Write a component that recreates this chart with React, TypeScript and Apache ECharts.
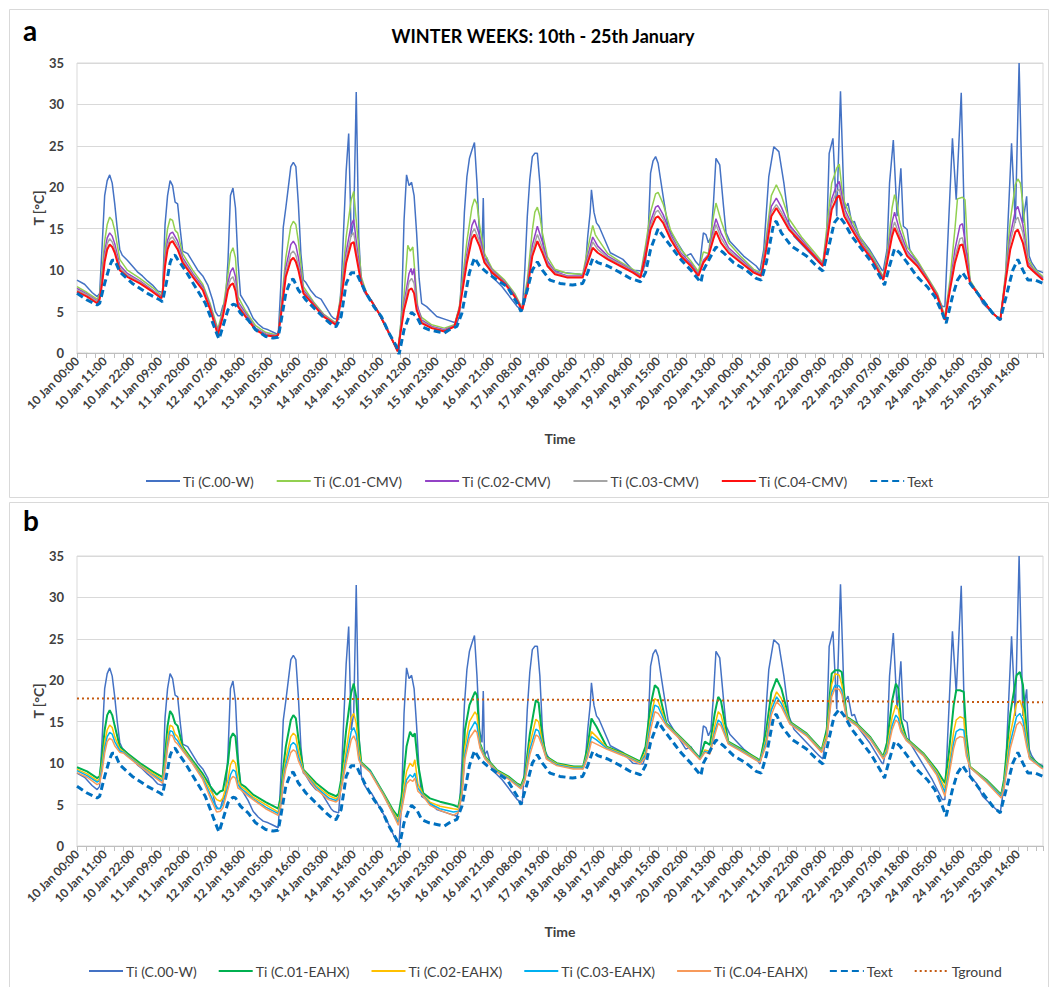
import React, { useEffect, useRef } from "react";
import * as echarts from "echarts";

const tickLabels = [
  "10 Jan 00:00", "10 Jan 11:00", "10 Jan 22:00", "11 Jan 09:00", "11 Jan 20:00",
  "12 Jan 07:00", "12 Jan 18:00", "13 Jan 05:00", "13 Jan 16:00", "14 Jan 03:00",
  "14 Jan 14:00", "15 Jan 01:00", "15 Jan 12:00", "15 Jan 23:00", "16 Jan 10:00",
  "16 Jan 21:00", "17 Jan 08:00", "17 Jan 19:00", "18 Jan 06:00", "18 Jan 17:00",
  "19 Jan 04:00", "19 Jan 15:00", "20 Jan 02:00", "20 Jan 13:00", "21 Jan 00:00",
  "21 Jan 11:00", "21 Jan 22:00", "22 Jan 09:00", "22 Jan 20:00", "23 Jan 07:00",
  "23 Jan 18:00", "24 Jan 05:00", "24 Jan 16:00", "25 Jan 03:00", "25 Jan 14:00",
];

// [hour since 10 Jan 00:00, temperature °C]
const tiC00W = [
  [0,8.8],[3,8.3],[6,7.3],[8,6.8],[9,7.2],[10,13],[11,19],[12,20.8],[13,21.5],[14,20.5],[15,18],[16,15],[17,12.5],[18,11.8],[20,11.2],[22,10.5],[24,9.8],[26,9.3],[28,8.7],[30,8.2],[32,7.5],[34,7.3],
  [35,15.5],[36,19],[37,20.8],[38,20.2],[39,18.2],[40,18],[41,15],[42,12.3],[44,12],[46,11],[48,10],[50,9.3],[52,8.2],[54,6.3],[55,5],[56,4.5],[57,4.5],[58,5.7],[59,6.2],
  [60,11],[61,19],[62,19.9],[63,17.5],[64,11],[65,7],[66,6.5],[68,5.5],[70,4.2],[72,3.5],[74,3],[76,2.8],[78,2.5],[80,2.2],
  [81,8],[82,15.2],[83,17.5],[84,20],[85,22.5],[86,23],[87,22.5],[88,18],[89,12],[90,8.8],[91,8.5],[93,7.5],[95,6.8],[97,6.5],[99,5.5],[101,4.5],[102,4.2],[104,4],
  [105,8],[106,15],[107,22],[108,26.5],[109,14],[110,16],[111,31.5],[112,14],[113,8.5],[114,7.5],[115,7],[117,6.4],[120,4.8],[123,3.2],[126,1.2],[128,0.3],
  [129,5],[130,16],[131,21.5],[132,20.2],[133,20.6],[134,19],[135,14.5],[136,9],[137,6],[139,5.6],[143,4.4],[147,4],[151,3.6],
  [152,4.4],[153,10],[154,17],[155,21.3],[156,23.5],[157,24.5],[158,25.4],[159,20.5],[160,14],[161,12.5],[161.5,18.7],[162,10.9],[163,11.5],[165,9.2],[169,8],[173,6.4],[175,5.6],[177,5.2],
  [178,10],[179,16.5],[180,21],[181,23.7],[182,24.1],[183,24.1],[184,20.5],[185,14.1],[186,11.5],[187,10.9],[189,10],[194,9.7],[200,9.5],[201,9.3],
  [202,10],[203,14],[204,17],[204.5,19.7],[205.5,17],[206.5,15.7],[207.5,15.3],[212,12.1],[217,11.3],[221,10],[225,9.9],
  [226,11],[227,14.1],[228,21.7],[229,23.2],[230,23.7],[231,22.9],[233,18.9],[235,15.1],[237,14.1],[242,11.7],[244,12],[246,11],[247.5,10.5],
  [249,14.5],[250,14.3],[251,13.3],[252,14],[253,18.1],[254,23.5],[255.5,22.7],[257,17.7],[258,14.5],[259.5,13.5],[265,11.7],[270,10.5],[271.5,9.9],
  [273,12.5],[275,21.3],[277,24.9],[279,24.3],[281,20.5],[283,15.7],[285,14.1],[290,12.5],[295,10.9],[296.5,10.5],
  [298,14.1],[299,24.1],[300.5,25.9],[302,16.5],[303.5,31.6],[305,17.3],[306.5,18.1],[308,15.7],[309,15.9],[311,14.1],[315,12.5],[320,10],[320.5,9.9],
  [322,12.5],[323,20.5],[324.5,25.7],[326,16.5],[327.5,22.3],[328.5,15.3],[330,14.9],[331,12.5],[336,10],[340,8],[344,5.6],[345,5.6],
  [346,12.5],[348,25.9],[349.5,18.5],[351.5,31.4],[353,12.5],[354,11.9],[355,8.4],[357.5,7.6],[360,6],[364,4.8],[367,4],
  [369,8.4],[371.5,25.3],[373,15.7],[374.5,35],[376,15.7],[377.5,18.9],[378.5,11.7],[379.5,10.9],[381.5,10],[384,9.7],
];

const tExt = [
  [0,7.2],[4,6.4],[8,5.8],[9,6],[11,8.4],[13,10.5],[14,11.2],[15,11.2],[17,9.8],[22,8.4],[28,7.2],[33,6.4],[34,6.2],
  [36,9.2],[37,10.9],[38,11.7],[39,11.8],[40,11.3],[43,10],[47,8],[51,6],[54,3.6],[56,2],[56.5,1.7],
  [58,3.2],[60,5.2],[62,5.9],[63,5.8],[65,4.8],[68,4],[71,2.8],[75,2],[78,1.8],[80,1.9],
  [81,3.6],[83,7.2],[85,8.8],[86,8.9],[88,7.6],[91,6.4],[95,5.2],[99,4],[102,3.2],[103,3.2],
  [105,4.4],[107,8.4],[109,9.7],[111,9.7],[113,8.4],[115,7.2],[118,5.6],[121,4.4],[124,2.4],[127,0.8],[128,-0.2],
  [130,2.8],[132,4.4],[133,4.9],[135,4.4],[137,3.2],[140,2.8],[143,2.6],[146,2.4],[148,2.8],[151,3.2],
  [153,4.8],[156,9.7],[158,11.5],[160,10.5],[163,9.7],[167,8.8],[171,8],[175,6],[176.5,5],
  [179,7.6],[181,10],[183,11],[185,10],[188,8.8],[192,8.4],[197,8.2],[201,8.4],
  [203,9.7],[205,11.4],[207,10.9],[211,10.5],[216,9.7],[220,9],[224,8.6],
  [226,9.7],[228,12.5],[231,15],[233,14.1],[236,12.9],[240,11.3],[244,10],[248,8.5],
  [249,10],[252,11.7],[254,12.8],[257,12.1],[261,10.9],[266,10],[270,9],[272,8.8],
  [274,10.9],[277,15.7],[278,15.9],[280,14.5],[284,12.9],[290,11.7],[294,10.5],[296.5,9.9],
  [298,11.7],[301,15.7],[303,16.5],[305,15.7],[308,14.1],[312,12.5],[316,10.9],[320,8.8],[321,8.2],
  [323,10.5],[325,12.6],[327,12.1],[330,10.9],[334,9.2],[338,8],[341,6.8],[344,4.8],[345.5,3.6],
  [348,6.8],[350,8.8],[352,9.7],[354,8.8],[357,7.6],[360,6.4],[364,4.8],[367,4],
  [369,6.4],[372,10],[374,11.3],[376,10],[378,8.8],[381,8.8],[384,8.4],
];

const tiC01CMV = [
  [0,8],[4,7.3],[8,6.5],[9,7],[10,10],[11,13.5],[12,15.5],[13,16.4],[14,16],[15,14.8],[17,11.3],[20,10],[25,9],[30,7.9],[33.5,7],
  [34,7.5],[35,12.5],[36,15],[37,16.2],[38,16],[39,14.8],[40,14.5],[42,12],[46,10],[50,8.3],[53,5.9],[56,2.9],
  [58,5.2],[60,9.5],[61,12],[62,12.7],[63,11.5],[64,6.8],[67,5.1],[71,3.3],[75,2.5],[79,2.2],[80,2.2],
  [81,5.2],[83,11.5],[85,15.3],[86,15.9],[87,15.5],[88,13.5],[90,8],[94,6.2],[98,4.7],[103,3.6],
  [105,7.2],[107,14],[109,18.5],[110,19.5],[111,16],[113,9.2],[115,7.3],[118,5.8],[120,4.8],[124,2.4],[127.5,0.2],
  [130,7],[131.5,13],[132.5,12.3],[133.5,12.8],[134.5,9],[135.5,5.3],[137,4.3],[141,3.4],[146,3],[150,3.4],
  [152,5.6],[155,13.5],[157,17.6],[158,18.6],[159,18],[160,15.5],[162,12],[165,10.2],[170,8.8],[174,7.2],[177,5.4],
  [179,8.8],[181,14.8],[182,17],[183,17.6],[184,16.5],[185,14.5],[187,11.6],[190,10.1],[195,9.6],[201,9.5],
  [203,12.5],[205,15.4],[206,14.3],[207,13.8],[211,12],[216,11],[221,10.1],[224,9.5],
  [226,13],[228,17],[230,19.2],[231,19.4],[233,18],[236,14.8],[240,12.5],[244,11.1],[247,9.8],
  [249,12.2],[251,12],[253,16.5],[254,18.1],[256,16],[259,13.3],[264,11.6],[269,10.1],[272,9.7],
  [274,14],[276,19],[278,20.3],[280,19],[283,16.2],[288,14],[293,12.2],[296.5,10.9],
  [298,15],[300,20.5],[302,22.3],[303,22.8],[304,20],[305,18.3],[308,16],[312,13.6],[316,11.8],[320.5,9.2],
  [322,11.8],[324,17.5],[325,19.1],[326,18],[327,15.8],[330,12.8],[334,11.2],[338,9.2],[342,7.2],[345,4.4],
  [347,8.8],[349,15],[350,18.6],[352,18.8],[353,18.5],[354,13],[355,8.8],[358,7.3],[361,6],[364,4.8],[367,4],
  [369,9.3],[371,16],[373,20.3],[374,21],[375,20.5],[376,18],[378,11.5],[380,10.3],[384,9.2],
];

const tiC02CMV = [
  [0,7.8],[4,7.1],[8,6.3],[9,6.8],[10,9.2],[11,12.2],[12,13.9],[13,14.5],[14,14.1],[15,13.2],[17,10.6],[20,9.6],[25,8.7],[30,7.6],[33.5,6.8],
  [34,7.3],[35,11.5],[36,13.6],[37,14.4],[38,14.6],[40,13.5],[42,11.5],[46,9.6],[50,8],[53,5.6],[56,2.6],
  [58,4.8],[60,8.5],[61,9.8],[62,10.3],[63,9.2],[64,6.2],[67,4.8],[71,3],[75,2.3],[79,2.1],[80,2.2],
  [81,4.8],[83,10.3],[85,13.1],[86,13.5],[87,13],[88,11.5],[90,7.6],[94,6],[98,4.6],[103,3.5],
  [105,6.8],[107,12.2],[109,15.5],[110,16.1],[111,13.5],[113,8.8],[115,7.2],[118,5.8],[120,4.8],[124,2.4],[127.5,0.2],
  [130,6],[132,9.6],[132.8,10.2],[133.3,9.4],[134,10.2],[135,6],[137,4],[141,3.2],[146,2.8],[150,3.3],
  [152,5.4],[155,12],[157,15.4],[158,16.1],[160,14.2],[162,11.5],[165,10],[170,8.6],[174,7],[177,5.3],
  [179,8.2],[181,13],[183,15.3],[185,13.4],[187,11.1],[190,9.8],[195,9.3],[201,9.3],
  [203,11.7],[205,14],[207,12.9],[211,11.7],[216,10.8],[221,9.9],[224,9.3],
  [226,12.3],[228,15.9],[230,17.6],[231,17.8],[233,16.7],[236,14.3],[240,12.1],[244,10.8],[247,9.5],
  [249,11.2],[251,11.9],[253,15],[254,16.2],[256,14.5],[259,12.7],[264,11.3],[269,9.9],[272,9.5],
  [274,13.3],[276,17.7],[278,18.7],[280,17.6],[283,15.5],[288,13.7],[293,11.9],[296.5,10.7],
  [298,14],[300,18.6],[302,20.3],[303,20.7],[305,17.5],[308,15.5],[312,13.3],[316,11.5],[320.5,9],
  [322,11.3],[324,15.8],[325,17],[327,14.8],[330,12.3],[334,10.9],[338,9],[342,7],[345,4.2],
  [347,8],[349,12.5],[351,15.4],[352,15.6],[353,13.5],[355,8.6],[358,7.2],[361,6],[364,4.8],[367,4],
  [369,8.8],[371,14.2],[373,17.2],[374,17.7],[376,15.5],[378,11],[380,10.1],[384,9],
];

const tiC03CMV = [
  [0,7.6],[4,7],[8,6.2],[9,6.7],[10,8.8],[11,11.6],[12,13.2],[13,13.8],[14,13.4],[15,12.6],[17,10.3],[20,9.4],[25,8.6],[30,7.5],[33.5,6.7],
  [34,7.2],[35,11],[36,13],[37,13.8],[38,14],[40,13],[42,11.2],[46,9.4],[50,7.8],[53,5.4],[56,2.4],
  [58,4.6],[60,8],[61,8.9],[62,9.2],[63,8.2],[64,5.9],[67,4.6],[71,2.9],[75,2.2],[79,2.1],[80,2.2],
  [81,4.6],[83,9.7],[85,12],[86,12.3],[87,11.8],[88,10.6],[90,7.4],[94,5.9],[98,4.5],[103,3.5],
  [105,6.6],[107,11.5],[109,14.2],[110,14.5],[111,12.5],[113,8.6],[115,7.2],[118,5.8],[120,4.8],[124,2.4],[127.5,0.2],
  [130,5.6],[132,8.6],[133,9],[134,8.4],[135,5.6],[137,3.8],[141,3.1],[146,2.7],[150,3.3],
  [152,5.3],[155,11.4],[157,14.5],[158,15],[160,13.5],[162,11.2],[165,9.9],[170,8.5],[174,6.9],[177,5.2],
  [179,7.9],[181,12.3],[183,14.3],[185,12.7],[187,10.8],[190,9.7],[195,9.2],[201,9.2],
  [203,11.3],[205,13.4],[207,12.5],[211,11.5],[216,10.7],[221,9.8],[224,9.2],
  [226,12],[228,15.4],[230,17],[231,17.2],[233,16.2],[236,14],[240,11.9],[244,10.6],[247,9.4],
  [249,11],[251,11.8],[253,14.4],[254,15.5],[256,13.9],[259,12.4],[264,11.1],[269,9.8],[272,9.4],
  [274,12.9],[276,17],[278,17.9],[280,17],[283,15.2],[288,13.5],[293,11.8],[296.5,10.6],
  [298,13.6],[300,18],[302,19.5],[303,19.8],[305,17],[308,15.2],[312,13.1],[316,11.4],[320.5,8.9],
  [322,11.1],[324,14.8],[325,15.8],[327,14.2],[330,12],[334,10.7],[338,8.9],[342,6.9],[345,4.1],
  [347,7.8],[349,11.6],[351,13.8],[352,13.9],[353,12.3],[355,8.5],[358,7.2],[361,6],[364,4.8],[367,4],
  [369,8.6],[371,13.4],[373,16],[374,16.4],[376,14.5],[378,10.8],[380,10],[384,8.9],
];

const tiC04CMV = [
  [0,7.4],[4,6.8],[8,6],[9,6.5],[10,8.4],[11,11],[12,12.5],[13,13.1],[14,12.8],[15,12.1],[17,10],[20,9.2],[25,8.4],[30,7.4],[33.5,6.6],
  [34,7],[35,10.5],[36,12.5],[37,13.3],[38,13.5],[40,12.5],[42,10.9],[46,9.2],[50,7.6],[53,5.2],[56,2.2],
  [58,4.4],[60,7.6],[61,8.2],[62,8.4],[63,7.5],[64,5.6],[67,4.4],[71,2.8],[75,2.1],[79,2],[80,2.2],
  [81,4.4],[83,9.2],[85,11.2],[86,11.5],[87,11],[88,10],[90,7.2],[94,5.8],[98,4.4],[103,3.4],
  [105,6.4],[107,10.9],[109,13.2],[110,13.4],[111,11.7],[113,8.4],[115,7.2],[118,5.8],[120,4.8],[124,2.4],[127.5,0.2],
  [130,5.2],[132,7.6],[133,7.8],[134,7.2],[135,5.2],[137,3.6],[141,3],[146,2.6],[150,3.2],
  [152,5.2],[155,10.9],[157,13.8],[158,14.3],[160,12.9],[162,10.9],[165,9.7],[170,8.4],[174,6.8],[177,5.2],
  [179,7.6],[181,11.7],[183,13.5],[185,12.1],[187,10.5],[190,9.5],[195,9.1],[201,9.1],
  [203,10.9],[205,12.7],[207,12.1],[211,11.3],[216,10.5],[221,9.7],[224,9.1],
  [226,11.7],[228,14.9],[230,16.3],[231,16.5],[233,15.7],[236,13.7],[240,11.7],[244,10.5],[247,9.3],
  [249,10.9],[251,11.7],[253,13.8],[254,14.7],[256,13.3],[259,12.1],[264,10.9],[269,9.7],[272,9.3],
  [274,12.5],[276,16.5],[278,17.5],[280,16.5],[283,14.9],[288,13.3],[293,11.7],[296.5,10.5],
  [298,13.3],[300,17.3],[302,18.7],[303,19],[305,16.5],[308,14.9],[312,12.9],[316,11.3],[320.5,8.8],
  [322,10.9],[324,14.1],[325,15.1],[327,13.7],[330,11.7],[334,10.5],[338,8.8],[342,6.8],[345,4],
  [347,7.6],[349,10.9],[351,13],[352,13.1],[353,11.7],[355,8.4],[358,7.2],[361,6],[364,4.8],[367,4],
  [369,8.4],[371,12.5],[373,14.6],[374,14.9],[376,13.3],[378,10.5],[380,9.9],[384,8.8],
];

const tiC01EAHX = [
  [0,9.5],[4,9],[8,8.2],[9,8.4],[10,11],[11,14],[12,15.8],[13,16.4],[14,15.8],[15,14.5],[17,12],[18.5,11.6],[20,11.2],[25,10],[30,9],[34,8.3],
  [35,11],[36,14.5],[37,16.3],[38,15.8],[39,14.8],[40,14.5],[42,12],[46,10.3],[50,8.7],[53,7.2],[55.5,6.2],[57,6.6],[58,6.7],
  [60,10],[61,13],[62,13.6],[63,13.2],[64,10],[65,7.5],[67,7.1],[70,6.2],[75,5.3],[80,4.5],
  [81,6],[82,9.5],[83,12],[85,15.2],[86,15.8],[87,15.4],[88,13],[90,9.2],[95,7.6],[100,6.4],[103,6],
  [104,6.3],[105,8],[107,14],[109,18.5],[110,19.6],[111,18],[112,13],[113,10.1],[116.5,9.1],[121.8,6.4],[125.7,4.3],[127.7,3.5],
  [129,6],[131,12],[132.4,13.8],[133.5,13.2],[134.3,13.6],[135.5,10],[137.6,6.4],[140.3,5.75],[144.3,5.35],[149.6,4.95],[151.6,4.7],
  [153,7],[154.2,14],[156,17],[158.2,18.6],[159,18.2],[160.2,12.4],[162.2,10.8],[166.8,9.2],[171.4,8.4],[174.7,7.6],[176.5,7.3],
  [178,8.5],[180,13.5],[182.4,17.6],[183.5,17.3],[185,13],[186.6,10.8],[190.7,10],[197.3,9.6],[201.2,9.6],
  [203,12],[204.5,15.4],[206.5,14.4],[210.5,12],[217.1,11.2],[223.8,10.2],
  [226,12],[228,17],[229.7,19.4],[231,19],[234.3,14.8],[239.7,13.2],[243.6,12],[247.6,10.6],
  [249.6,12.6],[251.6,12.2],[253.5,16],[254.9,18],[256,17.5],[258.9,12.6],[263.5,11.8],[270.1,10.6],[271.5,10.3],
  [274,14],[276,18.5],[278.1,20.2],[280,19],[283.4,15],[290,13.6],[296,11.6],
  [298,14],[300,20.8],[301.3,21.2],[303,21.2],[304,21],[306,15.6],[309.9,14.8],[315.2,13.2],[320.5,10.8],
  [322,12.5],[324,17.5],[325.5,19.6],[326.5,19],[327.5,15.3],[329.7,13],[336.4,11.2],[341.7,9.2],[345,7.6],
  [346.5,11],[348.5,17],[349.5,18.8],[351,18.8],[352.5,18.6],[353.5,13.5],[354.9,9.6],[361.5,8],[367.4,6.2],
  [368.5,8],[371,16],[373.5,20.6],[374.8,21],[376,19.5],[377.5,14],[378.7,10.8],[383.4,9.6],[384,9.5],
];

const tiC02EAHX = [
  [0,9.25],[4,8.7],[8,7.9],[9,8.1],[10,10],[11,12.5],[12,14],[13,14.6],[14,14.3],[15,13.2],[17,11.7],[18.5,11.4],[20,11],[25,9.8],[30,8.8],[34,8],
  [35,10],[36,13],[37,14.6],[38,14.4],[39,13.5],[40,13.2],[42,11.8],[46,10.1],[50,8.4],[53,6.7],[55.5,5.6],[57,5.4],[58,5.8],
  [60,8],[61,9.8],[62,10.4],[63,10],[64,8],[65,7.2],[67,6.8],[70,5.9],[75,5],[80,4.1],
  [81,5.4],[82,8.5],[83,10.5],[85,13.2],[86,13.6],[87,13.3],[88,11.5],[90,9.1],[95,7.3],[100,6.1],[103,5.7],
  [104,6],[105,7.3],[107,11.5],[109,15.5],[110,16],[111,14.8],[112,11.5],[113,10],[116.5,9],[121.8,6.3],[125.7,4.1],[127.7,3.1],
  [129,5],[131,9],[132.4,10],[133.5,9.6],[134.3,10.4],[135.5,7.5],[137.6,6.2],[140.3,5.3],[144.3,4.8],[149.6,4.5],[151.6,4.4],
  [153,6.5],[154.2,12],[156,15],[158.2,16.2],[159,15.8],[160.2,12.2],[162.2,10.7],[166.8,9.1],[171.4,8.3],[174.7,7.5],[176.5,7.1],
  [178,8.2],[180,12.3],[182.4,15.3],[183.5,15],[185,12.5],[186.6,10.7],[190.7,9.9],[197.3,9.5],[201.2,9.5],
  [203,11.3],[204.5,13.8],[206.5,13.2],[210.5,11.9],[217.1,11.1],[223.8,10.1],
  [226,11.3],[228,15.5],[229.7,17.8],[231,17.5],[234.3,14.7],[239.7,13.1],[243.6,11.9],[247.6,10.5],
  [249.6,11.6],[251.6,11.4],[253.5,14.5],[254.9,16.2],[256,15.8],[258.9,12.5],[263.5,11.7],[270.1,10.5],[271.5,10.2],
  [274,13],[276,17],[278.1,18.6],[280,17.8],[283.4,14.9],[290,13.5],[296,11.5],
  [298,13.5],[300,19.5],[301.3,20.8],[303,20.6],[304,19.5],[306,15.5],[309.9,14.7],[315.2,13.1],[320.5,10.7],
  [322,11.8],[324,15.5],[325.5,17],[326.5,16.5],[327.5,14.3],[329.7,12.9],[336.4,11.1],[341.7,9],[345,7],
  [346.5,9.5],[348.5,13.8],[349.5,15.2],[351,15.6],[352.5,15.4],[353.5,12],[354.9,9.6],[361.5,7.9],[367.4,6.1],
  [368.5,7.5],[371,13.5],[373.5,17.2],[374.8,17.6],[376,16.5],[377.5,13],[378.7,10.7],[383.4,9.5],[384,9.4],
];

const tiC03EAHX = [
  [0,9.1],[4,8.5],[8,7.7],[9,7.9],[10,9.5],[11,11.8],[12,13.2],[13,13.7],[14,13.5],[15,12.6],[17,11.5],[18.5,11.3],[20,10.9],[25,9.7],[30,8.6],[34,7.8],
  [35,9.6],[36,12.3],[37,13.9],[38,13.8],[39,13],[40,12.7],[42,11.6],[46,10],[50,8.2],[53,6.2],[55.5,4.5],[57,4.6],[58,5],
  [60,7.2],[61,8.6],[62,9.2],[63,9],[64,7.4],[65,7],[67,6.5],[70,5.7],[75,4.7],[80,3.9],
  [81,5],[82,8],[83,9.8],[85,12.2],[86,12.5],[87,12.2],[88,10.8],[90,9],[95,7.1],[100,5.8],[103,5.5],
  [104,5.8],[105,7],[107,10.6],[109,13.8],[110,14.3],[111,13.5],[112,10.8],[113,9.9],[116.5,9],[121.8,6.2],[125.7,3.9],[127.7,2.8],
  [129,4.5],[131,8],[132.4,8.6],[133.5,8.3],[134.3,8.8],[135.5,7],[137.6,6.1],[140.3,5.1],[144.3,4.5],[149.6,4.1],[151.6,4.2],
  [153,6.2],[154.2,11],[156,13.8],[158.2,15],[159,14.6],[160.2,12],[162.2,10.6],[166.8,9],[171.4,8.2],[174.7,7.4],[176.5,7],
  [178,8],[180,11.6],[182.4,14.1],[183.5,13.9],[185,12.2],[186.6,10.6],[190.7,9.8],[197.3,9.4],[201.2,9.4],
  [203,11],[204.5,13.2],[206.5,12.8],[210.5,11.8],[217.1,11],[223.8,10],
  [226,11],[228,14.8],[229.7,17],[231,16.8],[234.3,14.6],[239.7,13],[243.6,11.8],[247.6,10.5],
  [249.6,11.4],[251.6,11.2],[253.5,13.8],[254.9,15.2],[256,14.9],[258.9,12.4],[263.5,11.6],[270.1,10.4],[271.5,10.2],
  [274,12.6],[276,16.4],[278.1,18],[280,17.2],[283.4,14.8],[290,13.4],[296,11.4],
  [298,13],[300,18.5],[301.3,19.4],[303,19.3],[304,18.8],[306,15.4],[309.9,14.6],[315.2,13],[320.5,10.6],
  [322,11.5],[324,14.5],[325.5,15.8],[326.5,15.4],[327.5,14],[329.7,12.8],[336.4,11],[341.7,8.8],[345,6.5],
  [346.5,8.8],[348.5,12.5],[349.5,13.8],[351,14.1],[352.5,14],[353.5,11.4],[354.9,9.5],[361.5,7.8],[367.4,6],
  [368.5,7.2],[371,12.5],[373.5,15.6],[374.8,16],[376,15.2],[377.5,12.5],[378.7,10.6],[383.4,9.5],[384,9.4],
];

const tiC04EAHX = [
  [0,8.85],[4,8.3],[8,7.4],[9,7.6],[10,9],[11,11.2],[12,12.6],[13,13],[14,12.8],[15,12.1],[17,11.3],[18.5,11.2],[20,10.8],[25,9.6],[30,8.5],[34,7.6],
  [35,9.2],[36,11.8],[37,13.4],[38,13.3],[39,12.6],[40,12.3],[42,11.5],[46,9.9],[50,8],[53,5.8],[55.5,4.1],[57,4.2],[58,4.6],
  [60,6.8],[61,8],[62,8.4],[63,8.2],[64,7],[65,6.8],[67,6.3],[70,5.6],[75,4.5],[80,3.7],
  [81,4.7],[82,7.6],[83,9.3],[85,11.3],[86,11.6],[87,11.4],[88,10.3],[90,8.9],[95,6.9],[100,5.6],[103,5.3],
  [104,5.6],[105,6.8],[107,10],[109,12.8],[110,13.3],[111,12.6],[112,10.4],[113,9.8],[116.5,8.9],[121.8,6.1],[125.7,3.8],[127.7,2.5],
  [129,4.2],[131,7.5],[132.4,8],[133.5,7.8],[134.3,8.2],[135.5,6.6],[137.6,6],[140.3,4.9],[144.3,4.3],[149.6,3.7],[151.6,4.1],
  [153,6],[154.2,10.5],[156,13],[158.2,14],[159,13.7],[160.2,11.8],[162.2,10.5],[166.8,8.9],[171.4,8.1],[174.7,7.3],[176.5,6.9],
  [178,7.8],[180,11],[182.4,13.4],[183.5,13.2],[185,12],[186.6,10.5],[190.7,9.7],[197.3,9.3],[201.2,9.3],
  [203,10.7],[204.5,12.6],[206.5,12.3],[210.5,11.7],[217.1,10.9],[223.8,9.9],
  [226,10.7],[228,14],[229.7,16.2],[231,16],[234.3,14.5],[239.7,12.9],[243.6,11.7],[247.6,10.4],
  [249.6,11.3],[251.6,11.1],[253.5,13.4],[254.9,14.8],[256,14.5],[258.9,12.3],[263.5,11.5],[270.1,10.3],[271.5,10.1],
  [274,12.2],[276,15.8],[278.1,17.4],[280,16.8],[283.4,14.7],[290,13.3],[296,11.3],
  [298,12.8],[300,18],[301.3,19],[303,18.9],[304,18.3],[306,15.3],[309.9,14.5],[315.2,12.9],[320.5,10.5],
  [322,11.2],[324,14],[325.5,15.2],[326.5,14.9],[327.5,13.8],[329.7,12.7],[336.4,10.9],[341.7,8.6],[345,6],
  [346.5,8.3],[348.5,11.8],[349.5,12.9],[351,13.2],[352.5,13.1],[353.5,10.9],[354.9,9.5],[361.5,7.7],[367.4,5.8],
  [368.5,6.9],[371,11.8],[373.5,14.6],[374.8,15],[376,14.4],[377.5,12],[378.7,10.5],[383.4,9.4],[384,9.3],
];

const tGround = [[0,17.8],[96,17.75],[192,17.65],[288,17.5],[384,17.35]];

const FONT = "Lato, 'Open Sans', 'DejaVu Sans', sans-serif";
const TXT = "#404040";
const GRIDC = "#d9d9d9";

function xAxisFor(gridIndex: number) {
  return {
    type: "value",
    gridIndex,
    min: 0,
    max: 384,
    interval: 11,
    name: "Time",
    nameLocation: "middle",
    nameGap: 78,
    nameTextStyle: { fontFamily: FONT, fontWeight: "bold", fontSize: 14, color: TXT },
    axisLine: { show: true, lineStyle: { color: "#bfbfbf" } },
    axisTick: { show: true, length: 5, lineStyle: { color: "#bfbfbf" } },
    minorTick: { show: true, splitNumber: 3, length: 5, lineStyle: { color: "#bfbfbf" } },
    splitLine: { show: false },
    minorSplitLine: { show: false },
    axisLabel: {
      rotate: 45,
      margin: 6,
      fontFamily: FONT,
      fontWeight: "bold",
      fontSize: 12,
      color: TXT,
      showMaxLabel: false,
      formatter: (v: number) => {
        const i = Math.round(v / 11);
        return Math.abs(v - i * 11) < 1e-6 && tickLabels[i] ? tickLabels[i] : "";
      },
    },
  };
}

function yAxisFor(gridIndex: number) {
  return {
    type: "value",
    gridIndex,
    min: 0,
    max: 35,
    interval: 5,
    name: "T [°C]",
    nameLocation: "middle",
    nameGap: 32,
    nameMoveOverlap: false,
    nameRotate: 90,
    nameTextStyle: { fontFamily: FONT, fontWeight: "bold", fontSize: 14, color: TXT },
    axisLine: { show: false },
    axisTick: { show: false },
    splitLine: { lineStyle: { color: GRIDC, width: 1 } },
    axisLabel: { fontFamily: FONT, fontWeight: "bold", fontSize: 13, color: TXT, margin: 13 },
  };
}

function line(name: string, data: number[][], color: string, width: number, idx: number, type: any = "solid") {
  return {
    type: "line",
    name,
    data,
    xAxisIndex: idx,
    yAxisIndex: idx,
    symbol: "none",
    showSymbol: false,
    smooth: false,
    lineStyle: { color, width, type },
    itemStyle: { color },
    emphasis: { disabled: true },
  };
}

const legendText = { fontFamily: FONT, fontSize: 14, color: TXT, padding: [0, 0, 0, -2] };
const legendItemStyle = { color: "rgba(0,0,0,0)", borderColor: "rgba(0,0,0,0)", borderWidth: 0, opacity: 0 };

export default function App() {
  const ref = useRef<HTMLDivElement>(null);
  useEffect(() => {
    if (!ref.current) return;
    const chart = echarts.init(ref.current, undefined, { renderer: "svg" });
    const option: any = {
      animation: false,
      backgroundColor: "#ffffff",
      title: {
        text: "WINTER WEEKS: 10th - 25th January",
        left: 538,
        top: 22,
        textAlign: "center",
        textStyle: { fontFamily: FONT, fontWeight: "bold", fontSize: 18, color: "#000" },
      },
      graphic: [
        { type: "rect", shape: { x: 9.5, y: 9.5, width: 1039, height: 488 }, style: { fill: "none", stroke: GRIDC, lineWidth: 1 }, silent: true },
        { type: "rect", shape: { x: 9.5, y: 502.5, width: 1039, height: 490 }, style: { fill: "none", stroke: GRIDC, lineWidth: 1 }, silent: true },
        { type: "text", left: 23, top: 16, style: { text: "a", font: `bold 28px ${FONT}`, fill: "#000" } },
        { type: "text", left: 23, top: 506, style: { text: "b", font: `bold 28px ${FONT}`, fill: "#000" } },
      ],
      grid: [
        { left: 77, top: 63, width: 966, height: 290, show: true, borderColor: GRIDC, borderWidth: 1 },
        { left: 77, top: 556, width: 966, height: 290, show: true, borderColor: GRIDC, borderWidth: 1 },
      ],
      xAxis: [xAxisFor(0), xAxisFor(1)],
      yAxis: [yAxisFor(0), yAxisFor(1)],
      legend: [
        {
          top: 469, left: 140, itemWidth: 34, itemHeight: 12, itemGap: 22, textStyle: legendText,
          itemStyle: legendItemStyle,
          data: ["Ti (C.00-W)", "Ti (C.01-CMV)", "Ti (C.02-CMV)", "Ti (C.03-CMV)", "Ti (C.04-CMV)", "Text"],
        },
        {
          top: 959, left: 83, itemWidth: 34, itemHeight: 12, itemGap: 21, textStyle: legendText,
          itemStyle: legendItemStyle,
          data: ["Ti (C.00-W)", "Ti (C.01-EAHX)", "Ti (C.02-EAHX)", "Ti (C.03-EAHX)", "Ti (C.04-EAHX)", "Text", "Tground"],
        },
      ],
      series: [
        line("Ti (C.00-W)", tiC00W, "#4472C4", 1.5, 0),
        line("Ti (C.01-CMV)", tiC01CMV, "#92D050", 1.5, 0),
        line("Ti (C.02-CMV)", tiC02CMV, "#9343C6", 1.5, 0),
        line("Ti (C.03-CMV)", tiC03CMV, "#A5A5A5", 1.5, 0),
        line("Ti (C.04-CMV)", tiC04CMV, "#FF1010", 2, 0),
        line("Text", tExt, "#0070C0", 3, 0, [7, 4]),
        line("Ti (C.00-W)", tiC00W, "#4472C4", 1.5, 1),
        line("Ti (C.01-EAHX)", tiC01EAHX, "#00B050", 2, 1),
        line("Ti (C.02-EAHX)", tiC02EAHX, "#FFC000", 1.5, 1),
        line("Ti (C.03-EAHX)", tiC03EAHX, "#00B0F0", 1.5, 1),
        line("Ti (C.04-EAHX)", tiC04EAHX, "#F79A5B", 1.5, 1),
        line("Text", tExt, "#0070C0", 3, 1, [7, 4]),
        line("Tground", tGround, "#C55A11", 2, 1, [2, 3]),
      ],
    };
    chart.setOption(option);
    return () => chart.dispose();
  }, []);
  return (
    <div
      ref={ref}
      style={{ position: "fixed", left: 0, top: 0, width: 1057, height: 987, background: "#fff" }}
    />
  );
}
